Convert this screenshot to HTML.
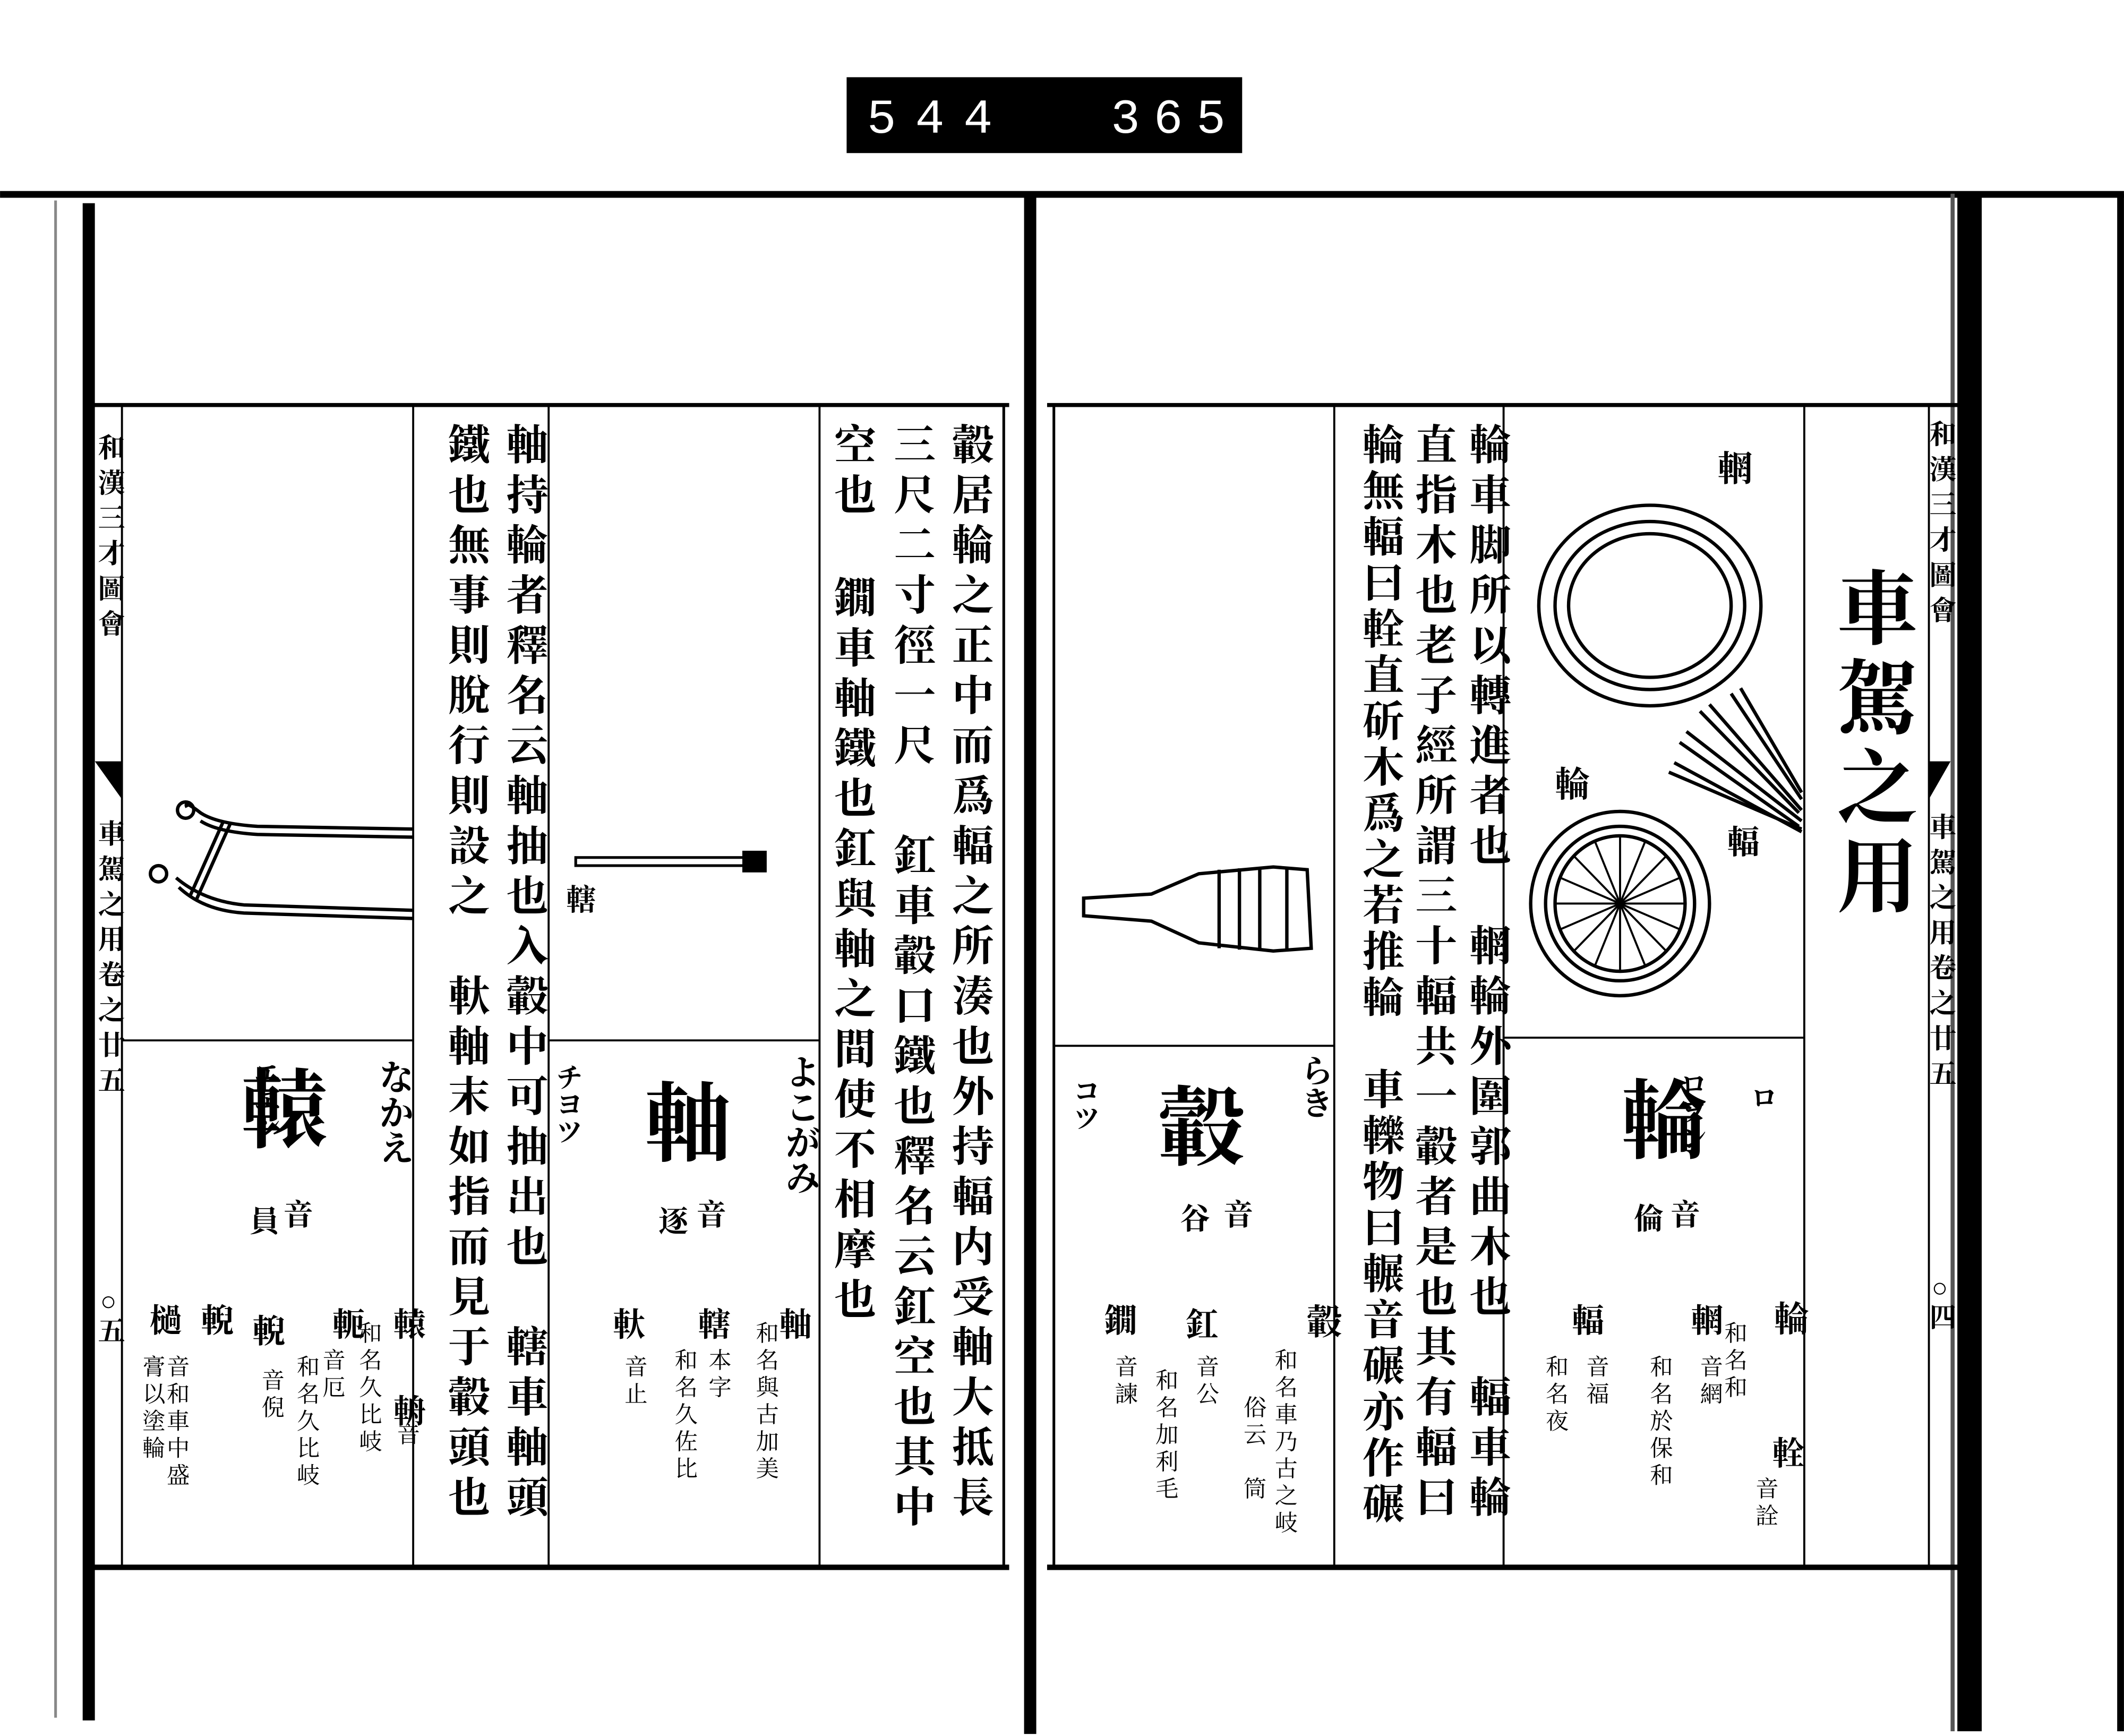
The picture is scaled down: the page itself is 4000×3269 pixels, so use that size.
<!DOCTYPE html>
<html><head><meta charset="utf-8"><style>
html,body{margin:0;padding:0;background:#fff;}
svg{display:block}
.t{font-family:"Liberation Serif","Noto Serif CJK SC","Noto Sans CJK JP",serif;font-weight:bold;fill:#000;writing-mode:vertical-rl;}
.m{font-size:31px;letter-spacing:6px}
.s{font-size:22px;letter-spacing:6px}
.xs{font-size:17px;letter-spacing:3px;font-weight:normal}
.h{font-family:"Liberation Serif","Noto Serif CJK SC",serif;font-weight:bold;fill:#000;}
</style></head><body>
<svg width="4000" height="3269" viewBox="0 0 1568 1281.5" xmlns="http://www.w3.org/2000/svg">
<rect width="1568" height="1281.5" fill="#fff"/>
<rect x="625" y="57" width="292" height="56" fill="#000"/>
<text x="640" y="98" font-family="Liberation Mono,monospace" font-size="36" fill="#fff" letter-spacing="14">544</text>
<text x="820" y="98" font-family="Liberation Mono,monospace" font-size="36" fill="#fff" letter-spacing="10">365.</text>
<rect x="0" y="141" width="1568" height="5" fill="#000"/>
<rect x="756" y="143" width="9" height="1137" fill="#000"/>
<rect x="61" y="150" width="9" height="1120" fill="#000"/>
<rect x="40" y="148" width="2" height="1120" fill="#888"/>
<rect x="1445" y="143" width="18" height="1135" fill="#000"/>
<rect x="1563" y="143" width="5" height="1135" fill="#000"/>
<rect x="1440" y="143" width="3" height="1135" fill="#555"/>

<g stroke="#000" fill="none">
<line x1="66" y1="299" x2="745" y2="299" stroke-width="3"/>
<line x1="66" y1="1157" x2="745" y2="1157" stroke-width="4"/>
<line x1="90" y1="299" x2="90" y2="1157" stroke-width="1.5"/>
<line x1="305" y1="299" x2="305" y2="1157" stroke-width="1.5"/>
<line x1="405" y1="299" x2="405" y2="1157" stroke-width="1.5"/>
<line x1="605" y1="299" x2="605" y2="1157" stroke-width="1.5"/>
<line x1="741" y1="299" x2="741" y2="1157" stroke-width="2"/>
<line x1="90" y1="768" x2="305" y2="768" stroke-width="1.5"/>
<line x1="405" y1="768" x2="605" y2="768" stroke-width="1.5"/>
<line x1="773" y1="299" x2="1447" y2="299" stroke-width="3"/>
<line x1="773" y1="1157" x2="1447" y2="1157" stroke-width="4"/>
<line x1="778" y1="299" x2="778" y2="1157" stroke-width="2"/>
<line x1="985" y1="299" x2="985" y2="1157" stroke-width="1.5"/>
<line x1="1110" y1="299" x2="1110" y2="1157" stroke-width="1.5"/>
<line x1="1332" y1="299" x2="1332" y2="1157" stroke-width="1.5"/>
<line x1="1424" y1="299" x2="1424" y2="1157" stroke-width="1.5"/>
<line x1="778" y1="772" x2="985" y2="772" stroke-width="1.5"/>
<line x1="1110" y1="766" x2="1332" y2="766" stroke-width="1.5"/>
</g>
<polygon points="70,562 90,562 90,590" fill="#000"/>
<polygon points="1424,562 1440,562 1424,590" fill="#000"/>

<text class="t" x="80" y="320" font-size="20" letter-spacing="6">和漢三才圖會</text>
<text class="t" x="80" y="605" font-size="20" letter-spacing="6">車駕之用卷之廿五</text>
<text class="t" x="80" y="950" font-size="20">○五</text>
<text class="t" x="1432" y="310" font-size="20" letter-spacing="6">和漢三才圖會</text>
<text class="t" x="1432" y="600" font-size="20" letter-spacing="6">車駕之用卷之廿五</text>
<text class="t" x="1432" y="940" font-size="20">○四</text>

<text class="t m" x="715" y="312">轂居輪之正中而爲輻之所湊也外持輻内受軸大抵長</text>
<text class="t m" x="672" y="312">三尺二寸徑一尺</text>
<text class="t m" x="672" y="615">釭車轂口鐵也釋名云釭空也其中</text>
<text class="t m" x="628" y="312">空也</text>
<text class="t m" x="628" y="425">鐗車軸鐵也釭與軸之間使不相摩也</text>
<text class="t m" x="386" y="312">軸持輪者釋名云軸抽也入轂中可抽出也　轄車軸頭</text>
<text class="t m" x="343" y="312">鐵也無事則脫行則設之　軑軸末如指而見于轂頭也</text>

<g stroke="#000" fill="none" stroke-width="2.5">
<path d="M305,612 L190,610 Q160,608 148,600 Q135,590 138,596"/>
<path d="M305,618 L190,616 Q160,614 148,606"/>
<path d="M305,672 L180,668 Q150,665 130,648"/>
<path d="M305,678 L180,674 Q150,672 132,655"/>
<circle cx="137" cy="598" r="6"/>
<circle cx="117" cy="645" r="6"/>
<path d="M165,606 L140,662"/>
<path d="M170,608 L145,664"/>
</g>
<rect x="425" y="633" width="130" height="6" fill="none" stroke="#000" stroke-width="2"/>
<rect x="548" y="628" width="18" height="16" fill="#000"/>
<text class="h" x="418" y="672" font-size="22">轄</text>

<text class="t" x="195" y="782" font-size="20">エヱン</text>
<text class="h" x="178" y="842" font-size="64">轅</text>
<text class="t" x="290" y="782" font-size="26">なかえ</text>
<text class="t s" x="218" y="885">音</text>
<text class="t s" x="193" y="890">員</text>
<text class="t" x="300" y="965" font-size="24" letter-spacing="8">轅　輈</text>
<text class="t xs" x="300" y="1050">音</text>
<text class="t" x="255" y="965" font-size="24" letter-spacing="8">軛</text>
<text class="t xs" x="245" y="995">音厄</text>
<text class="t xs" x="272" y="975">和名久比岐</text>
<text class="t" x="196" y="970" font-size="24">輗</text>
<text class="t xs" x="200" y="1010">音倪</text>
<text class="t xs" x="226" y="1000">和名久比岐</text>
<text class="t" x="158" y="962" font-size="24">輗</text>
<text class="t" x="120" y="962" font-size="24">檛</text>
<text class="t xs" x="130" y="1000">音和車中盛</text>
<text class="t xs" x="112" y="1000">膏以塗輪</text>

<text class="t" x="418" y="785" font-size="20">チヨツ</text>
<text class="h" x="476" y="852" font-size="64">軸</text>
<text class="t" x="590" y="778" font-size="26">よこがみ</text>
<text class="t s" x="523" y="885">音</text>
<text class="t s" x="495" y="890">逐</text>
<text class="t" x="585" y="965" font-size="24" letter-spacing="8">軸</text>
<text class="t xs" x="565" y="975">和名與古加美</text>
<text class="t" x="525" y="965" font-size="24">轄</text>
<text class="t xs" x="530" y="995">本字</text>
<text class="t xs" x="505" y="995">和名久佐比</text>
<text class="t" x="462" y="965" font-size="24">軑</text>
<text class="t xs" x="468" y="1000">音止</text>

<text class="t" x="1380" y="418" font-size="60" letter-spacing="6">車駕之用</text>
<text class="t m" x="1097" y="312">輪車脚所以轉進者也　輞輪外圍郭曲木也　輻車輪</text>
<text class="t m" x="1057" y="312">直指木也老子經所謂三十輻共一轂者是也其有輻曰</text>
<text class="t" x="1018" y="312" font-size="31" letter-spacing="3">輪無輻曰輇直斫木爲之若推輪　車轢物曰輾音碾亦作碾</text>

<g stroke="#000" fill="none" stroke-width="2.5">
<ellipse cx="1218" cy="447" rx="82" ry="74"/>
<ellipse cx="1218" cy="447" rx="70" ry="62"/>
<ellipse cx="1218" cy="447" rx="60" ry="53"/>
<ellipse cx="1196" cy="667" rx="66" ry="68"/>
<ellipse cx="1196" cy="667" rx="55" ry="57"/>
<ellipse cx="1196" cy="667" rx="48" ry="50"/>
<g stroke-width="1.5">
<line x1="1196" y1="667" x2="1196" y2="617"/><line x1="1196" y1="667" x2="1196" y2="717"/>
<line x1="1196" y1="667" x2="1148" y2="667"/><line x1="1196" y1="667" x2="1244" y2="667"/>
<line x1="1196" y1="667" x2="1230" y2="632"/><line x1="1196" y1="667" x2="1162" y2="702"/>
<line x1="1196" y1="667" x2="1162" y2="632"/><line x1="1196" y1="667" x2="1230" y2="702"/>
<line x1="1196" y1="667" x2="1215" y2="620"/><line x1="1196" y1="667" x2="1177" y2="714"/>
<line x1="1196" y1="667" x2="1177" y2="620"/><line x1="1196" y1="667" x2="1215" y2="714"/>
<line x1="1196" y1="667" x2="1240" y2="648"/><line x1="1196" y1="667" x2="1152" y2="686"/>
<line x1="1196" y1="667" x2="1152" y2="648"/><line x1="1196" y1="667" x2="1240" y2="686"/>
</g>
<line x1="1240" y1="548" x2="1328" y2="610"/><line x1="1245" y1="540" x2="1330" y2="606"/>
<line x1="1255" y1="525" x2="1328" y2="600"/><line x1="1262" y1="520" x2="1330" y2="598"/>
<line x1="1278" y1="512" x2="1330" y2="590"/><line x1="1285" y1="508" x2="1330" y2="585"/>
<line x1="1232" y1="570" x2="1330" y2="612"/><line x1="1236" y1="563" x2="1330" y2="614"/>
<path d="M800,663 L850,660 L885,645 L940,640 L965,642 L968,700 L940,702 L885,696 L850,680 L800,676 Z"/>
<line x1="900" y1="642" x2="900" y2="700"/><line x1="915" y1="641" x2="915" y2="701"/>
<line x1="930" y1="640" x2="930" y2="702"/><line x1="950" y1="641" x2="950" y2="701"/>
</g>
<text class="h" x="1268" y="355" font-size="26">輞</text>
<text class="h" x="1148" y="588" font-size="26">輪</text>
<text class="h" x="1275" y="630" font-size="24">輻</text>

<text class="t" x="1300" y="800" font-size="20">ロ</text>
<text class="t" x="1248" y="790" font-size="20">ロヲン</text>
<text class="h" x="1197" y="850" font-size="64">輪</text>
<text class="t s" x="1242" y="885">音</text>
<text class="t s" x="1215" y="888">倫</text>
<text class="t" x="1320" y="960" font-size="26">輪</text>
<text class="t" x="1318" y="1060" font-size="24">輇</text>
<text class="t xs" x="1303" y="1090">音詮</text>
<text class="t" x="1258" y="962" font-size="24">輞</text>
<text class="t xs" x="1280" y="975">和名和</text>
<text class="t xs" x="1262" y="1000">音網</text>
<text class="t xs" x="1225" y="1000">和名於保和</text>
<text class="t" x="1170" y="962" font-size="24">輻</text>
<text class="t xs" x="1178" y="1000">音福</text>
<text class="t xs" x="1148" y="1000">和名夜</text>

<text class="t" x="800" y="795" font-size="20">コツ</text>
<text class="h" x="855" y="855" font-size="64">轂</text>
<text class="t" x="970" y="778" font-size="24">らき</text>
<text class="t s" x="912" y="885">音</text>
<text class="t s" x="880" y="888">谷</text>
<text class="t" x="975" y="962" font-size="26">轂</text>
<text class="t xs" x="948" y="995">和名車乃古之岐</text>
<text class="t xs" x="925" y="1030">俗云　筒</text>
<text class="t" x="885" y="965" font-size="24">釭</text>
<text class="t xs" x="890" y="1000">音公</text>
<text class="t xs" x="860" y="1010">和名加利毛</text>
<text class="t" x="825" y="962" font-size="24">鐗</text>
<text class="t xs" x="830" y="1000">音諫</text>
</svg>
</body></html>
